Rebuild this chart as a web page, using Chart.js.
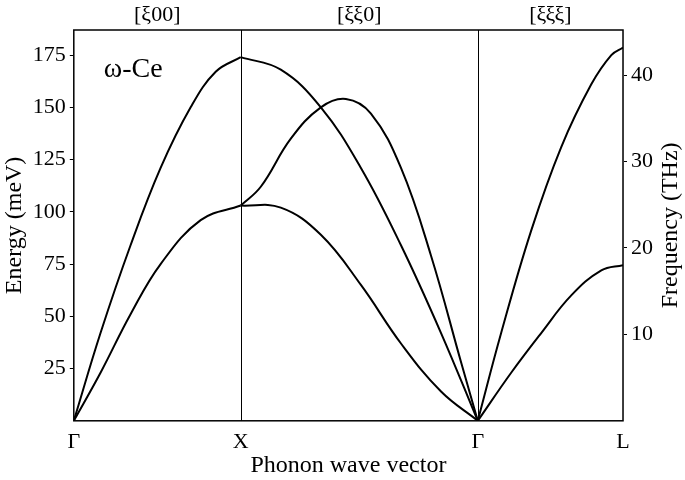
<!DOCTYPE html>
<html><head><meta charset="utf-8">
<script src="https://cdn.jsdelivr.net/npm/chart.js@4"></script>
<style>body{margin:0;background:#fff}#wrap{width:685px;height:480px}</style>
</head><body><div id="wrap"><canvas id="c"></canvas></div>
<script>
// x positions of the symmetry points (Γ, X, Γ, L)
const symPos = [0, 1, 2.42, 3.29];
const symLabels = ['Γ', 'X', 'Γ', 'L'];
const dirLabels = ['[ξ00]', '[ξξ0]', '[ξξξ]'];

// branch data, energy in meV
const gxX = [0, 0.16, 0.34, 0.52, 0.70, 0.85, 1];
const gxUpper = [0, 42, 84, 121, 150, 167, 174];
const gxLowerX = [0, 0.16, 0.34, 0.52, 0.76, 1];
const gxLower = [0, 23, 51, 75, 96, 103];

const xgX = [1, 1.24, 1.48, 1.72, 1.96, 2.20, 2.42];
const xgA = [174, 168, 150, 121, 84, 42, 0];
const xgBX = [1, 1.12, 1.30, 1.48, 1.63, 1.78, 1.96, 2.14, 2.32, 2.42];
const xgB = [103, 112, 135, 150, 154, 147, 121, 79, 28, 0];
const xgCX = [1, 1.24, 1.48, 1.72, 1.96, 2.20, 2.42];
const xgC = [103, 102, 89, 65, 37, 14, 0];

const glX = [2.42, 2.56, 2.74, 2.92, 3.10, 3.22, 3.29];
const glUpper = [0, 42, 91, 131, 161, 175, 178.6];
const glLowerX = [2.42, 2.62, 2.80, 2.98, 3.16, 3.29];
const glLower = [0, 23, 42, 60, 72, 74.5];

const mk = (xs, ys) => ({
  data: xs.map((x, i) => ({ x: x, y: ys[i] })),
  borderColor: '#000', borderWidth: 2, pointRadius: 0, tension: 0.4, fill: false
});

const font = { family: 'Liberation Serif', size: 22 };

const extras = {
  id: 'extras',
  afterDraw(ch) {
    const c = ch.ctx, xs = ch.scales.x, a = ch.chartArea;
    c.save();
    c.strokeStyle = '#000'; c.lineWidth = 1;
    [symPos[1], symPos[2]].forEach(v => {
      const p = Math.round(xs.getPixelForValue(v)) + 0.5;
      c.beginPath(); c.moveTo(p, a.top); c.lineTo(p, a.bottom); c.stroke();
    });
    c.lineWidth = 1.5;
    c.strokeRect(a.left, a.top, a.right - a.left, a.bottom - a.top);
    c.fillStyle = '#000'; c.font = '22px "Liberation Serif"'; c.textAlign = 'center'; c.textBaseline = 'bottom';
    dirLabels.forEach((t, i) => {
      c.fillText(t, xs.getPixelForValue((symPos[i] + symPos[i + 1]) / 2), a.top - 4);
    });
    c.textAlign = 'left'; c.textBaseline = 'middle'; c.font = '28px "Liberation Serif"';
    c.fillText('ω-Ce', a.left + 30, a.top + 40);
    // right axis title, reading bottom to top
    c.translate(671, (a.top + a.bottom) / 2);
    c.rotate(-Math.PI / 2);
    c.textAlign = 'center'; c.font = '24px "Liberation Serif"';
    c.fillText('Frequency (THz)', 0, 0);
    c.restore();
  }
};

new Chart(document.getElementById('c'), {
  type: 'line',
  data: { datasets: [mk(gxX, gxUpper), mk(gxLowerX, gxLower), mk(xgX, xgA), mk(xgBX, xgB), mk(xgCX, xgC), mk(glX, glUpper), mk(glLowerX, glLower)] },
  options: {
    responsive: true, maintainAspectRatio: false, animation: false,
    layout: { padding: { top: 30, left: 0, right: 28, bottom: 0 } },
    plugins: { legend: { display: false }, tooltip: { enabled: false } },
    scales: {
      x: {
        type: 'linear', min: 0, max: symPos[3],
        afterBuildTicks: s => { s.ticks = symPos.map(v => ({ value: v })); },
        ticks: { font: font, color: '#000', autoSkip: false, maxRotation: 0, padding: 0,
          callback: (v, i) => symLabels[i] },
        grid: { display: false },
        title: { display: true, text: 'Phonon wave vector', font: { family: 'Liberation Serif', size: 24 }, color: '#000', padding: { top: -4, bottom: 0 } }
      },
      y: {
        min: 0, max: 187, position: 'left',
        afterBuildTicks: s => { s.ticks = [25, 50, 75, 100, 125, 150, 175].map(v => ({ value: v })); },
        ticks: { font: font, color: '#000', padding: 4 },
        grid: { drawOnChartArea: false, color: '#000', tickLength: 4 },
        title: { display: true, text: 'Energy (meV)', font: { family: 'Liberation Serif', size: 24 }, color: '#000', padding: 0 }
      },
      y2: {
        min: 0, max: 187 / 4.136, position: 'right',
        afterBuildTicks: s => { s.ticks = [10, 20, 30, 40].map(v => ({ value: v })); },
        ticks: { font: font, color: '#000', padding: 4 },
        grid: { drawOnChartArea: false, color: '#000', tickLength: 4 }
      }
    }
  },
  plugins: [extras]
});
</script></body></html>
